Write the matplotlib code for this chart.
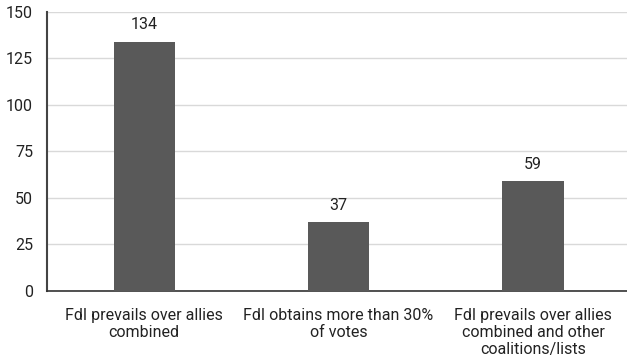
import matplotlib.pyplot as plt
import numpy as np

categories = ['FdI prevails over allies\ncombined',
              'FdI obtains more than 30%\nof votes',
              'FdI prevails over allies\ncombined and other\ncoalitions/lists']
values = [134, 37, 59]
yticks = [0, 25, 50, 75, 100, 125, 150]

plt.rcParams['font.family'] = ['Roboto', 'DejaVu Sans']

fig = plt.figure(figsize=(6.27, 3.6), dpi=100)
ax = fig.add_axes([0.075, 0.192, 0.93, 0.775])

x = np.arange(len(values))
bars = ax.bar(x, values, width=0.315, color='#595959', zorder=3)
for xi, v in zip(x, values):
    ax.text(xi, v + 5, str(v), ha='center', va='bottom', fontsize=11.5, color='#222222')

ax.set_xlim(-0.5, 2.5)
ax.set_ylim(0, 150)
ax.set_yticks(yticks)
ax.set_xticks(x)
ax.set_xticklabels(categories, fontsize=11.5, color='#222222', linespacing=1.2)
ax.tick_params(axis='y', labelsize=11.5, labelcolor='#222222', length=0, pad=10)
ax.tick_params(axis='x', length=0, pad=12)
ax.grid(axis='y', color='#d9d9d9', linewidth=1, zorder=0)
for s in ['top', 'right']:
    ax.spines[s].set_visible(False)
ax.spines['left'].set_color('#444444')
ax.spines['left'].set_linewidth(1.5)
ax.spines['bottom'].set_color('#333333')
ax.spines['bottom'].set_linewidth(1.2)

fig.savefig('out.png', dpi=100)
